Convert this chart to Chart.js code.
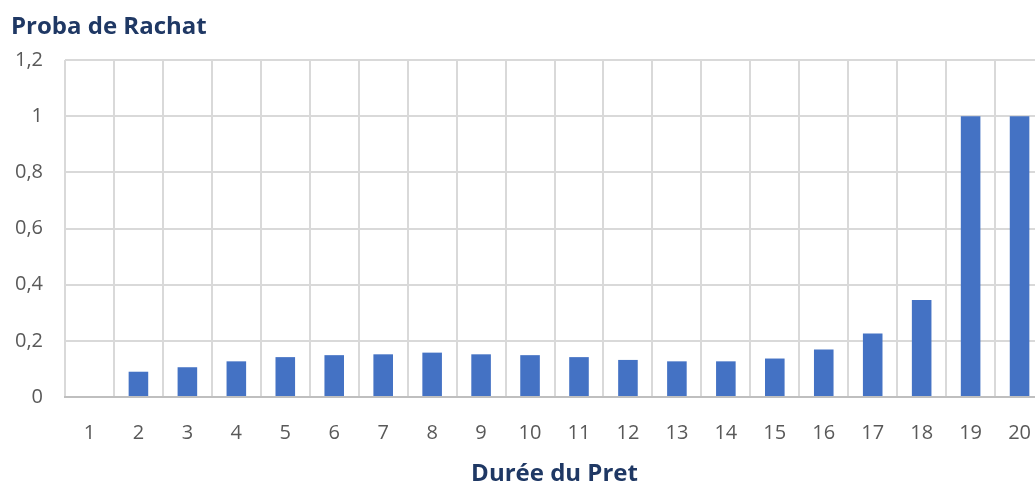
<!DOCTYPE html>
<html>
<head>
<meta charset="utf-8">
<script src="https://cdn.jsdelivr.net/npm/chart.js@4"></script>
<style>
  html, body { margin: 0; padding: 0; background: #fff; overflow: hidden; }
  #wrap { position: absolute; left: 0; top: 0; width: 1055px; height: 486px; }
  #c { display: block; width: 1055px; height: 486px; }
</style>
</head>
<body>
<div id="wrap"><canvas id="c" width="1055" height="486" style="width:1055px;height:486px"></canvas></div>
<script>
// Durée du prêt (années) et probabilité de rachat associée
const durees = ['1','2','3','4','5','6','7','8','9','10','11','12','13','14','15','16','17','18','19','20'];
const probaRachat = [0, 0.09, 0.106, 0.127, 0.142, 0.149, 0.152, 0.158, 0.152, 0.149, 0.142, 0.132, 0.127, 0.127, 0.137, 0.169, 0.226, 0.345, 1, 1];
const yTicks = [0, 0.2, 0.4, 0.6, 0.8, 1, 1.2];

const navy = '#1F3864';
const tickGrey = '#595959';
const gridGrey = '#D9D9D9';
const boldFont = { family: 'Open Sans', size: 24, weight: 'bold', lineHeight: 1 };
const tickFont = { family: 'Open Sans', size: 20 };

const fmt = v => String(Number(v.toFixed(1))).replace('.', ',');

// Titre de l'axe des valeurs, posé en haut à gauche
const topLeftTitle = {
  id: 'topLeftTitle',
  afterDraw(chart) {
    const ctx = chart.ctx;
    ctx.save();
    ctx.font = `bold ${boldFont.size}px "${boldFont.family}"`;
    ctx.fillStyle = navy;
    ctx.textAlign = 'left';
    ctx.textBaseline = 'alphabetic';
    ctx.fillText('Proba de Rachat', 11, 34);
    ctx.restore();
  }
};

new Chart(document.getElementById('c'), {
  type: 'bar',
  data: {
    labels: durees,
    datasets: [{
      label: 'Proba de Rachat',
      data: probaRachat,
      backgroundColor: '#4472C4',
      borderWidth: 0,
      barPercentage: 0.4,
      categoryPercentage: 1.0
    }]
  },
  options: {
    responsive: false,
    animation: false,
    layout: { padding: { left: 0, right: 0, top: 60, bottom: 0 } },
    plugins: {
      legend: { display: false },
      tooltip: { enabled: false },
      title: { display: false }
    },
    scales: {
      x: {
        afterFit: s => { s.height = 89; },
        grid: { color: gridGrey, lineWidth: 2, drawTicks: false, offset: true },
        border: { color: '#BFBFBF', width: 2 },
        ticks: { color: tickGrey, font: tickFont, padding: 24, maxRotation: 0 },
        title: {
          display: true,
          text: 'Durée du Pret',
          color: navy,
          font: boldFont,
          padding: { top: 0, bottom: 0 }
        }
      },
      y: {
        min: 0,
        max: 1.2,
        afterBuildTicks: s => { s.ticks = yTicks.map(v => ({ value: v })); },
        afterFit: s => { s.width = 65; },
        grid: { color: gridGrey, lineWidth: 2, drawTicks: false },
        border: { display: false },
        ticks: {
          color: tickGrey,
          font: tickFont,
          padding: 22,
          callback: v => fmt(v)
        }
      }
    }
  },
  plugins: [topLeftTitle]
});
</script>
</body>
</html>
